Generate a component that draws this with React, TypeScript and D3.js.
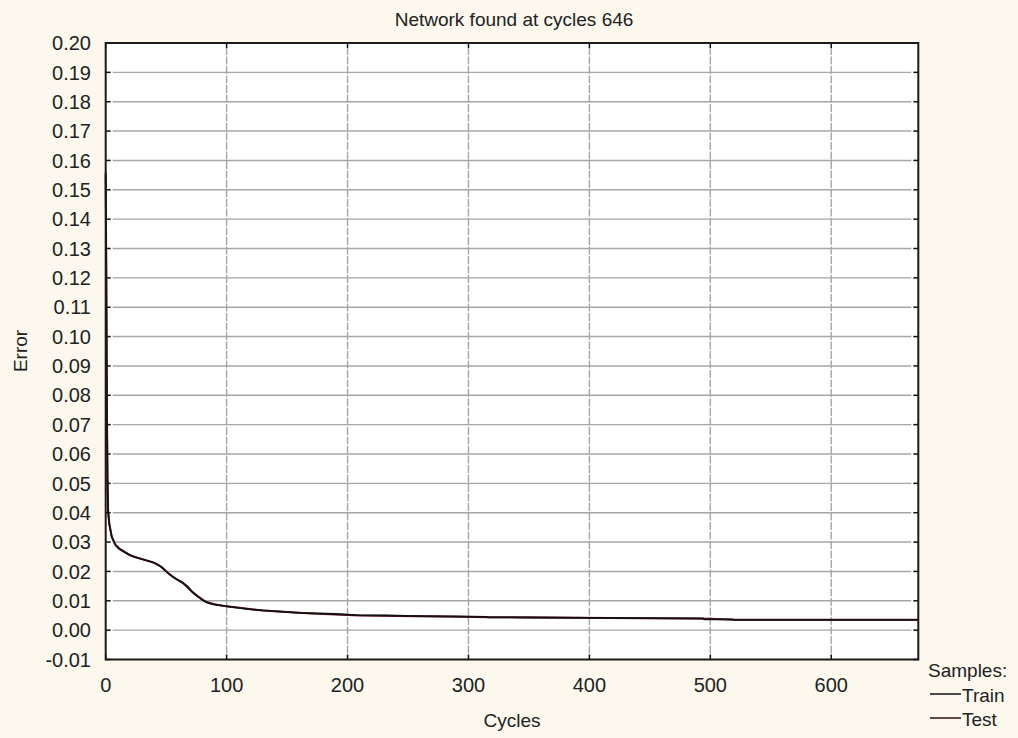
import React from "react";
import * as d3 from "d3";

const title = "Network found at cycles 646";
const xTicks = [0, 100, 200, 300, 400, 500, 600];
const yTicks = [-0.01, 0.0, 0.01, 0.02, 0.03, 0.04, 0.05, 0.06, 0.07, 0.08, 0.09, 0.1, 0.11, 0.12, 0.13, 0.14, 0.15, 0.16, 0.17, 0.18, 0.19, 0.2];

const trainCycles = [0, 0.5, 1, 1.5, 2, 3, 5, 8, 11, 16, 23, 30, 38, 42, 46, 50, 55, 60, 64, 68, 72, 76, 80, 84, 88, 93, 100, 110, 120, 130, 145, 160, 175, 190, 207, 230, 260, 290, 315, 316, 350, 400, 450, 494, 495, 518, 519, 560, 600, 672];
const trainError = [0.155, 0.12, 0.075, 0.05, 0.04, 0.036, 0.0317, 0.029, 0.0277, 0.0265, 0.025, 0.0242, 0.0233, 0.0226, 0.0215, 0.02, 0.0183, 0.017, 0.016, 0.0148, 0.0128, 0.0115, 0.0103, 0.0094, 0.0089, 0.0085, 0.0081, 0.0076, 0.0071, 0.0067, 0.0063, 0.0059, 0.0057, 0.0055, 0.0051, 0.005, 0.0048, 0.0047, 0.0045, 0.0044, 0.0043, 0.0042, 0.0041, 0.004, 0.0037, 0.0037, 0.0035, 0.0035, 0.0035, 0.0035];

const testCycles = [0, 0.5, 1, 1.5, 2, 3, 5, 8, 12, 20, 30, 40, 46, 52, 58, 64, 70, 76, 82, 90, 100, 130, 170, 210, 320, 500, 520, 672];
const testError = [0.156, 0.121, 0.076, 0.051, 0.041, 0.0362, 0.0319, 0.0291, 0.0276, 0.0255, 0.0242, 0.0229, 0.0216, 0.0193, 0.0175, 0.0161, 0.0136, 0.0116, 0.0098, 0.0088, 0.0081, 0.0067, 0.0057, 0.005, 0.0044, 0.0039, 0.0035, 0.0035];

const legendTitle = "Samples:";
const seriesNames = ["Train", "Test"];

const W = 1018;
const H = 738;
const left = 105.7;
const right = 918.3;
const top = 43;
const bottom = 659.5;
const FONT = "'Liberation Sans', Arial, sans-serif";

export default function App() {
  const x = d3.scaleLinear().domain([0, 672]).range([left, right]);
  const y = d3.scaleLinear().domain([-0.01, 0.2]).range([bottom, top]);

  const line = d3
    .line<[number, number]>()
    .x((d) => x(d[0]))
    .y((d) => y(d[1]));

  const trainPts = trainCycles.map((c, i) => [c, trainError[i]] as [number, number]);
  const testPts = testCycles.map((c, i) => [c, testError[i]] as [number, number]);

  return (
    <svg
      width={W}
      height={H}
      style={{ position: "absolute", left: 0, top: 0, background: "#fcf8ee" }}
      fontFamily={FONT}
    >
      <rect x={0} y={0} width={W} height={H} fill="#fcf8ee" />
      <rect x={left} y={top} width={right - left} height={bottom - top} fill="#ffffff" />

      {/* grid lines */}
      {yTicks
        .filter((t) => t > -0.01 && t < 0.2)
        .map((t) => (
          <line key={"gy" + t} x1={left + 7} x2={right - 7} y1={y(t)} y2={y(t)} stroke="#a6a6a6" strokeWidth={1.4} />
        ))}
      {xTicks
        .filter((t) => t > 0)
        .map((t) => (
          <line key={"gx" + t} x1={x(t)} x2={x(t)} y1={top + 4} y2={bottom - 4} stroke="#a6a6a6" strokeWidth={1.4} strokeDasharray="8,1.5" />
        ))}

      {/* tick marks */}
      {yTicks.map((t) => (
        <g key={"ty" + t}>
          <line x1={left} x2={left + 5} y1={y(t)} y2={y(t)} stroke="#111" strokeWidth={1.5} />
          <line x1={right - 5} x2={right} y1={y(t)} y2={y(t)} stroke="#111" strokeWidth={1.5} />
        </g>
      ))}
      {xTicks.map((t) => (
        <g key={"tx" + t}>
          <line x1={x(t)} x2={x(t)} y1={bottom - 5} y2={bottom} stroke="#111" strokeWidth={1.5} />
          <line x1={x(t)} x2={x(t)} y1={top} y2={top + 5} stroke="#111" strokeWidth={1.5} />
        </g>
      ))}

      {/* series */}
      <path d={line(testPts) || ""} fill="none" stroke="#7a1020" strokeWidth={2} />
      <path d={line(trainPts) || ""} fill="none" stroke="#111111" strokeWidth={1.8} />

      {/* frame */}
      <rect x={left} y={top} width={right - left} height={bottom - top} fill="none" stroke="#1a1a1a" strokeWidth={2} />

      {/* y tick labels */}
      {yTicks.map((t) => (
        <text key={"ly" + t} x={91} y={y(t)} dy="0.36em" textAnchor="end" fontSize={20} fill="#222">
          {d3.format(".2f")(t).replace("−", "-")}
        </text>
      ))}
      {/* x tick labels */}
      {xTicks.map((t) => (
        <text key={"lx" + t} x={x(t)} y={692} textAnchor="middle" fontSize={20} fill="#222">
          {t}
        </text>
      ))}

      <text x={514} y={26} textAnchor="middle" fontSize={19} fill="#222">
        {title}
      </text>
      <text x={512} y={727} textAnchor="middle" fontSize={19} fill="#222">
        Cycles
      </text>
      <text transform={`translate(27, 351) rotate(-90)`} textAnchor="middle" fontSize={19} fill="#222">
        Error
      </text>

      {/* legend */}
      <text x={928} y={677} fontSize={19} fill="#222">
        {legendTitle}
      </text>
      {seriesNames.map((s, i) => (
        <g key={s}>
          <line x1={930} x2={961} y1={694 + i * 24} y2={694 + i * 24} stroke={i === 0 ? "#111" : "#2a1010"} strokeWidth={1.5} />
          <text x={962} y={702 + i * 24} fontSize={19} fill="#222">
            {s}
          </text>
        </g>
      ))}
    </svg>
  );
}
